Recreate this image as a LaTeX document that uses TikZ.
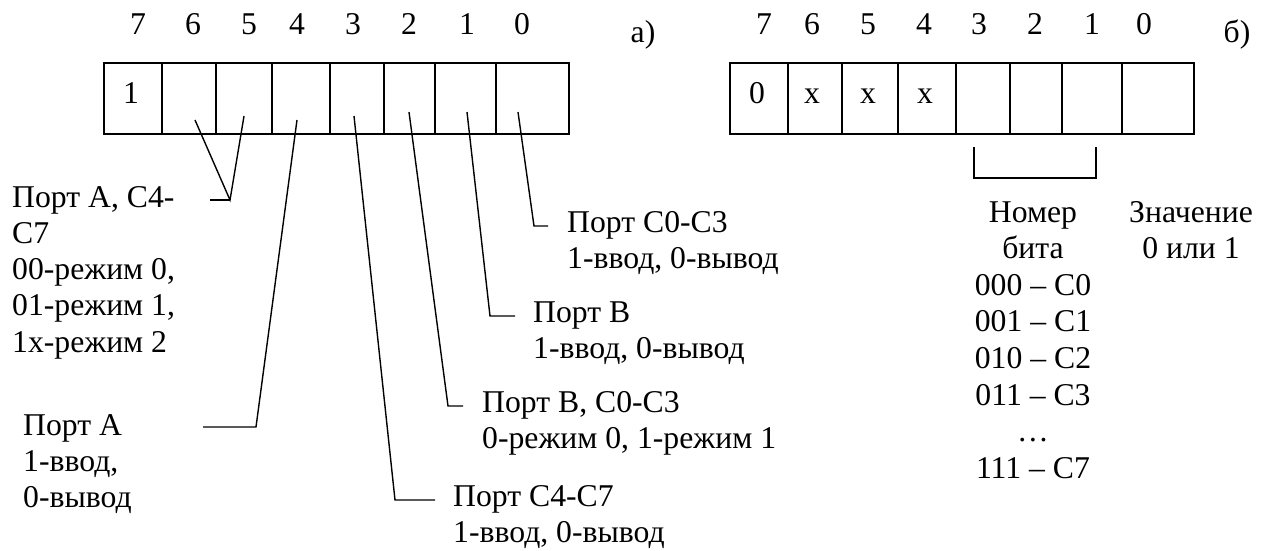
\documentclass[tikz,border=0pt]{standalone}
\usepackage{fontspec}
\setmainfont{Liberation Serif}
\newcommand\mlines[2]{\begin{tabular}[t]{@{}#1@{}}#2\end{tabular}}
\begin{document}
\begin{tikzpicture}[x=1pt,y=-1pt,
  every node/.style={font=\fontsize{31.7}{36.3}\selectfont, inner sep=0pt},
  cell/.style={draw, line width=1.6pt, minimum height=71pt, anchor=north west},
  lbl/.style={anchor=base},
  txt/.style={anchor=base west},
  conn/.style={line width=1.4pt}]
\useasboundingbox (0,0) rectangle (1263,551);

% ---- a) register
\node[cell, minimum width=58pt] (a7) at (103,62) {};
\node[cell, minimum width=54pt] (a6) at (161,62) {};
\node[cell, minimum width=56pt] (a5) at (215,62) {};
\node[cell, minimum width=58pt] (a4) at (271,62) {};
\node[cell, minimum width=54pt] (a3) at (329,62) {};
\node[cell, minimum width=51pt] (a2) at (383,62) {};
\node[cell, minimum width=61pt] (a1) at (434,62) {};
\node[cell, minimum width=73pt] (a0) at (495,62) {};

\node[lbl] (na7) at (138,35) {7};
\node[lbl] (na6) at (193,35) {6};
\node[lbl] (na5) at (249,35) {5};
\node[lbl] (na4) at (297,35) {4};
\node[lbl] (na3) at (353,35) {3};
\node[lbl] (na2) at (409,35) {2};
\node[lbl] (na1) at (467,35) {1};
\node[lbl] (na0) at (522,35) {0};
\node[lbl] (capa) at (643,43) {а)};
\node[lbl] (va7) at (131,103) {1};

% ---- b) register
\node[cell, minimum width=58pt] (b7) at (729,62) {};
\node[cell, minimum width=54pt] (b6) at (787,62) {};
\node[cell, minimum width=56pt] (b5) at (841,62) {};
\node[cell, minimum width=58pt] (b4) at (897,62) {};
\node[cell, minimum width=54pt] (b3) at (955,62) {};
\node[cell, minimum width=52pt] (b2) at (1009,62) {};
\node[cell, minimum width=60pt] (b1) at (1061,62) {};
\node[cell, minimum width=72pt] (b0) at (1121,62) {};

\node[lbl] (nb7) at (764,35) {7};
\node[lbl] (nb6) at (812,35) {6};
\node[lbl] (nb5) at (868,35) {5};
\node[lbl] (nb4) at (924,35) {4};
\node[lbl] (nb3) at (979,35) {3};
\node[lbl] (nb2) at (1035,35) {2};
\node[lbl] (nb1) at (1092,35) {1};
\node[lbl] (nb0) at (1144,35) {0};
\node[lbl] (capb) at (1237,43) {б)};
\node[lbl] (vb7) at (757,103) {0};
\node[lbl] (vb6) at (812,103) {x};
\node[lbl] (vb5) at (868,103) {x};
\node[lbl] (vb4) at (925,103) {x};

% ---- texts a)
\node[txt] (tA47) at (12,207) {\mlines{l}{Порт А, С4-\\С7\\00-режим 0,\\01-режим 1,\\1x-режим 2}};
\node[txt] (tA) at (23,435) {\mlines{l}{Порт А\\1-ввод,\\0-вывод}};
\node[txt] (tC47) at (453,506) {\mlines{l}{Порт С4-С7\\1-ввод, 0-вывод}};
\node[txt] (tBC) at (482,412) {\mlines{l}{Порт В, С0-С3\\0-режим 0, 1-режим 1}};
\node[txt] (tB) at (533,322) {\mlines{l}{Порт В\\1-ввод, 0-вывод}};
\node[txt] (tC03) at (567,232) {\mlines{l}{Порт С0-С3\\1-ввод, 0-вывод}};

% ---- texts b)
\node[lbl, font=\fontsize{31.7}{36.6}\selectfont] (tnum) at (1033,222)
  {\mlines{c}{Номер\\бита\\000 – С0\\001 – С1\\010 – С2\\011 – С3\\…\\111 – С7}};
\node[lbl] (tval) at (1191,222) {\mlines{c}{Значение\\0 или 1}};

% ---- connector points
\coordinate (p6) at (195,120);
\coordinate (p5) at (244,116);
\coordinate (p4) at (297,120);
\coordinate (p3) at (354,116);
\coordinate (p2) at (409,112);
\coordinate (p1) at (467,112);
\coordinate (p0) at (518,112);
\coordinate (v65) at (230,200);
\coordinate (s65) at (210,200);
\coordinate (k4) at (256,427);
\coordinate (s4) at (203,427);
\coordinate (k3) at (395,500);
\coordinate (s3) at (435,500);
\coordinate (k2) at (448,406);
\coordinate (s2) at (463,406);
\coordinate (k1) at (490,316);
\coordinate (s1) at (515,316);
\coordinate (k0) at (534,226);
\coordinate (s0) at (548,226);

\draw[conn] (p6) -- (v65) -- (p5);
\draw[conn] (v65) -- (s65);
\draw[conn] (p4) -- (k4) -- (s4);
\draw[conn] (p3) -- (k3) -- (s3);
\draw[conn] (p2) -- (k2) -- (s2);
\draw[conn] (p1) -- (k1) -- (s1);
\draw[conn] (p0) -- (k0) -- (s0);

% ---- bracket in b)
\coordinate (bl) at (974,147);
\coordinate (blb) at (974,178);
\coordinate (brb) at (1096,178);
\coordinate (br) at (1096,147);
\draw[conn] (bl) -- (blb) -- (brb) -- (br);
\end{tikzpicture}
\end{document}
